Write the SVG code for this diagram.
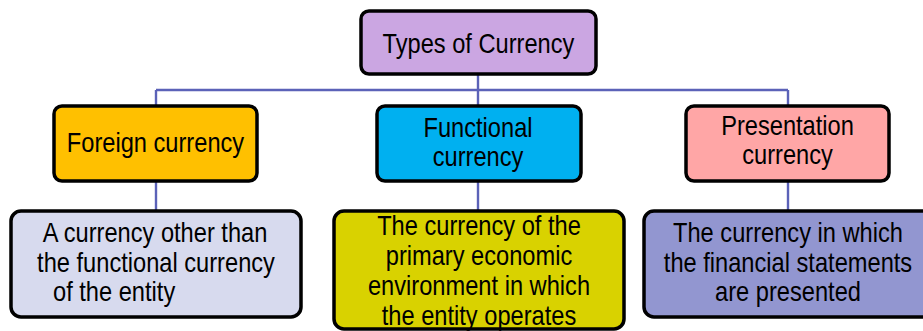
<svg xmlns="http://www.w3.org/2000/svg" width="923" height="331" viewBox="0 0 923 331">
  <style>
    .box { stroke: #000; stroke-width: 3.5; }
    .lbl { font-family: "Liberation Sans", Arial, sans-serif; font-size: 28.5px; fill: #000; text-anchor: middle; }
    .conn { stroke: #5b62b8; stroke-width: 2.4; fill: none; }
  </style>

  <!-- connectors -->
  <g id="connectors" class="conn">
    <line x1="478" y1="74" x2="478" y2="105"/>
    <line x1="156" y1="90" x2="788" y2="90"/>
    <line x1="156" y1="90" x2="156" y2="105"/>
    <line x1="788" y1="90" x2="788" y2="105"/>
    <line x1="156" y1="181" x2="156" y2="210"/>
    <line x1="478" y1="181" x2="478" y2="210"/>
    <line x1="788" y1="181" x2="788" y2="210"/>
  </g>

  <!-- root -->
  <g id="types">
    <rect class="box" x="361" y="11" width="235" height="63" rx="8" fill="#cba6e2"/>
    <text class="lbl" transform="matrix(0.83 0 0 1 478.5 53)" x="0" y="0">Types of Currency</text>
  </g>

  <!-- second level -->
  <g id="foreign">
    <rect class="box" x="54" y="106" width="203" height="75" rx="8" fill="#ffc000"/>
    <text class="lbl" transform="matrix(0.83 0 0 1 155.5 152)" x="0" y="0">Foreign currency</text>
  </g>
  <g id="functional">
    <rect class="box" x="377" y="106" width="204" height="75" rx="8" fill="#00b0f0"/>
    <text class="lbl" transform="matrix(0.83 0 0 1 478 137)" x="0" y="0">Functional</text>
    <text class="lbl" transform="matrix(0.83 0 0 1 478 166)" x="0" y="0">currency</text>
  </g>
  <g id="presentation">
    <rect class="box" x="686" y="106" width="203" height="75" rx="8" fill="#ffa6a6"/>
    <text class="lbl" transform="matrix(0.83 0 0 1 787.5 135)" x="0" y="0">Presentation</text>
    <text class="lbl" transform="matrix(0.83 0 0 1 787.5 164)" x="0" y="0">currency</text>
  </g>

  <!-- definitions -->
  <g id="foreign-def">
    <rect class="box" x="11" y="211" width="290" height="106" rx="10" fill="#d7daee"/>
    <text class="lbl" transform="matrix(0.83 0 0 1 155 242)" x="0" y="0">A currency other than</text>
    <text class="lbl" transform="matrix(0.83 0 0 1 156 272)" x="0" y="0">the functional currency</text>
    <text class="lbl" transform="matrix(0.83 0 0 1 53 301)" x="0" y="0" style="text-anchor:start">of the entity</text>
  </g>
  <g id="functional-def">
    <rect class="box" x="334" y="211" width="290" height="118" rx="10" fill="#d9d200"/>
    <text class="lbl" transform="matrix(0.83 0 0 1 479 235)" x="0" y="0">The currency of the</text>
    <text class="lbl" transform="matrix(0.83 0 0 1 479 265)" x="0" y="0">primary economic</text>
    <text class="lbl" transform="matrix(0.83 0 0 1 479 295)" x="0" y="0">environment in which</text>
    <text class="lbl" transform="matrix(0.83 0 0 1 479 325)" x="0" y="0">the entity operates</text>
  </g>
  <g id="presentation-def">
    <rect class="box" x="644" y="211" width="290" height="106" rx="10" fill="#9296d0"/>
    <text class="lbl" transform="matrix(0.83 0 0 1 788 242)" x="0" y="0">The currency in which</text>
    <text class="lbl" transform="matrix(0.83 0 0 1 788 272)" x="0" y="0">the financial statements</text>
    <text class="lbl" transform="matrix(0.83 0 0 1 788 301)" x="0" y="0">are presented</text>
  </g>
</svg>
